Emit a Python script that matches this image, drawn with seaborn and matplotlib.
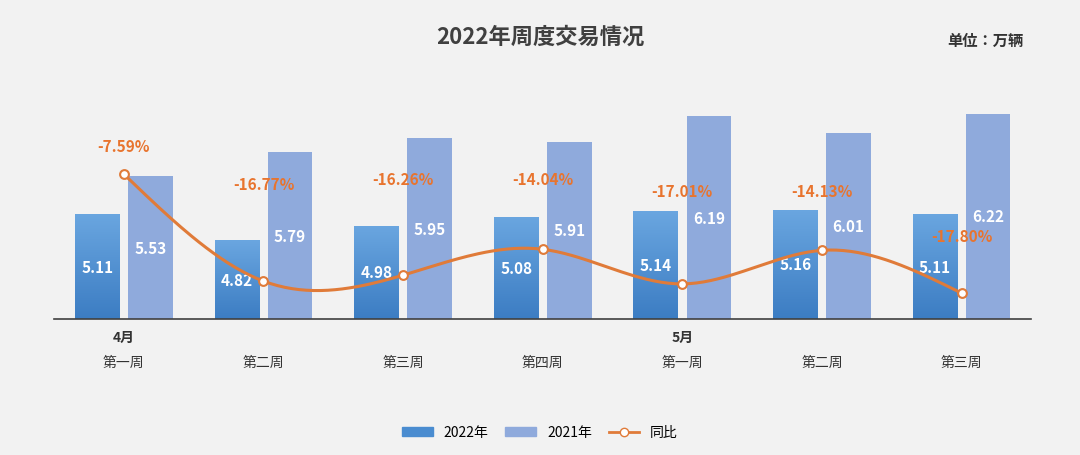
import numpy as np
import pandas as pd
import matplotlib
matplotlib.use("Agg")
import matplotlib.pyplot as plt
import seaborn as sns
from matplotlib.colors import LinearSegmentedColormap
from matplotlib.lines import Line2D
from matplotlib.patches import Patch

plt.rcParams["font.family"] = ["Noto Sans CJK SC", "Noto Sans CJK JP", "Noto Sans CJK TC", "DejaVu Sans"]

weeks = ["第一周", "第二周", "第三周", "第四周", "第一周", "第二周", "第三周"]
months = ["4月", "", "", "", "5月", "", ""]
v2022 = [5.11, 4.82, 4.98, 5.08, 5.14, 5.16, 5.11]
v2021 = [5.53, 5.79, 5.95, 5.91, 6.19, 6.01, 6.22]
yoy = [-7.59, -16.77, -16.26, -14.04, -17.01, -14.13, -17.80]
yoy_label_y = [-5.2, -8.45, -8.0, -8.0, -9.05, -9.05, -12.9]  # label placement

bg = "#f2f2f2"
fig = plt.figure(figsize=(10.8, 4.56), dpi=100, facecolor=bg)
ax = fig.add_axes([0.05, 0.298, 0.905, 0.57], facecolor=bg)

n = len(weeks)
df = pd.DataFrame({"i": list(range(n)) * 2,
                   "val": v2022 + v2021,
                   "year": ["2022年"] * n + ["2021年"] * n})
sns.barplot(data=df, x="i", y="val", hue="year", ax=ax,
            palette={"2022年": "#5b9bd5", "2021年": "#8faadc"},
            width=0.76, legend=False, saturation=1)
ax.set_ylim(3.95, 6.82)
ax.set_xlim(-0.5, n - 0.5)

bw = 0.32
cmap = LinearSegmentedColormap.from_list("g", ["#3c7dc3", "#6aa6e0"])
grad = np.linspace(0, 1, 100).reshape(-1, 1)
for k, p in enumerate(ax.patches[:2 * n]):
    i = k % n
    cx = i - 0.19 if k < n else i + 0.19
    p.set_x(cx - bw / 2)
    p.set_width(bw)
    h = p.get_height()
    if k < n:
        p.set_facecolor("none")
        p.set_edgecolor("none")
        im = ax.imshow(grad, cmap=cmap, origin="lower", aspect="auto",
                       extent=[cx - bw / 2, cx + bw / 2, 3.95, h], zorder=p.get_zorder())
        im.set_clip_path(p)
    ax.text(cx, (3.95 + h) / 2, f"{h:.2f}", color="white", fontsize=11,
            fontweight="bold", ha="center", va="center", zorder=5)
ax.set_xlim(-0.5, n - 0.5)
ax.set_ylim(3.95, 6.82)

for s in ["top", "right", "left"]:
    ax.spines[s].set_visible(False)
ax.spines["bottom"].set_color("#404040")
ax.spines["bottom"].set_linewidth(1.2)
ax.set_yticks([])
ax.set_xticks(range(n))
ax.set_xticklabels(weeks, fontsize=10, color="#333333")
ax.tick_params(axis="x", length=0, pad=26)
ax.set_xlabel("")
ax.set_ylabel("")
for i, m in enumerate(months):
    if m:
        ax.text(i, -0.07, m, transform=ax.get_xaxis_transform(), ha="center",
                va="center", fontsize=10, color="#333333", fontweight="bold")

ax2 = ax.twinx()
ax2.set_ylim(-20.03, 2.27)
ax2.axis("off")
x = np.arange(n, dtype=float)
y = np.array(yoy)
h = np.diff(x)
A = np.zeros((n, n)); r = np.zeros(n)
A[0, 0] = A[-1, -1] = 1
for i in range(1, n - 1):
    A[i, i - 1] = h[i - 1]; A[i, i] = 2 * (h[i - 1] + h[i]); A[i, i + 1] = h[i]
    r[i] = 3 * ((y[i + 1] - y[i]) / h[i] - (y[i] - y[i - 1]) / h[i - 1])
c = np.linalg.solve(A, r)
xs, ys = [], []
for i in range(n - 1):
    b = (y[i + 1] - y[i]) / h[i] - h[i] * (2 * c[i] + c[i + 1]) / 3
    d = (c[i + 1] - c[i]) / (3 * h[i])
    t = np.linspace(0, h[i], 40)
    xs.extend(x[i] + t); ys.extend(y[i] + b * t + c[i] * t ** 2 + d * t ** 3)
sns.lineplot(x=xs, y=ys, ax=ax2, color="#e07b39", linewidth=2.2, sort=False)
ax2.scatter(x, y, s=40, facecolor="white", edgecolor="#e07b39", linewidth=1.5, zorder=6)
for i in range(n):
    ax2.text(i, yoy_label_y[i], f"{yoy[i]:.2f}%", color="#e8742e", fontsize=11,
             fontweight="bold", ha="center", va="center", zorder=7)
ax2.set_ylim(-20.03, 2.27)

fig.text(0.5, 0.918, "2022年周度交易情况", ha="center", va="center",
         fontsize=16, fontweight="bold", color="#404040")
fig.text(0.912, 0.91, "单位：万辆", ha="center", va="center", fontsize=11,
         fontweight="bold", color="#333333")
handles = [Patch(color="#4a8cd0"), Patch(color="#8faadc"),
           Line2D([], [], color="#e07b39", lw=2, marker="o", markerfacecolor="white")]
fig.legend(handles, ["2022年", "2021年", "同比"], loc="center", bbox_to_anchor=(0.5, 0.05),
           ncol=3, frameon=False, fontsize=10, handlelength=2.2, columnspacing=1.2,
           handleheight=0.6)
fig.savefig("out.png", dpi=100, facecolor=bg)
